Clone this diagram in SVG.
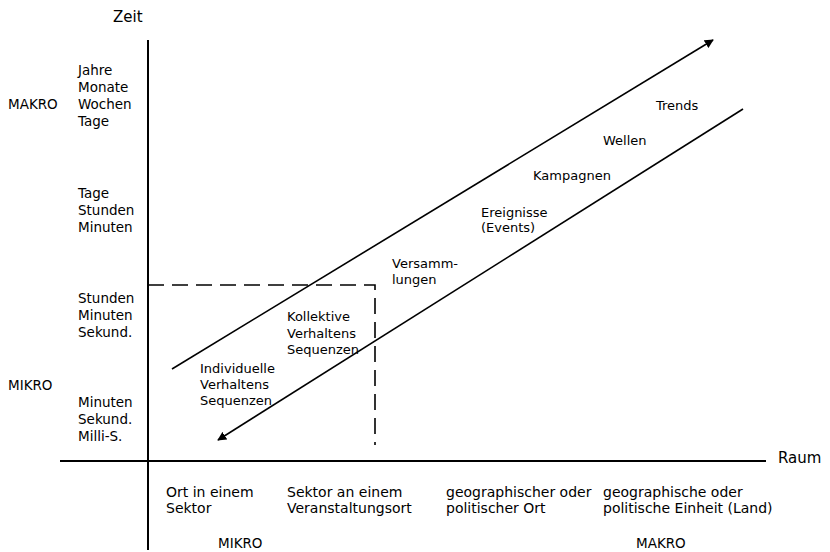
<svg xmlns="http://www.w3.org/2000/svg" width="830" height="552" viewBox="0 0 830 552">
  <style>
    text { font-family: "DejaVu Sans", "Liberation Sans", sans-serif; font-size: 13px; fill: #000; }
    .title { font-size: 15px; }
    .scale { font-size: 13.5px; }
    .space { font-size: 14px; }
    .axis { stroke: #000; stroke-width: 2; fill: none; }
    .trend { stroke: #000; stroke-width: 1.6; fill: none; }
    .dash { stroke: #000; stroke-width: 1.6; fill: none; stroke-dasharray: 16 8; }
  </style>
  <defs>
    <marker id="head" viewBox="0 0 10 10" refX="9" refY="5" markerWidth="9" markerHeight="9" markerUnits="userSpaceOnUse" orient="auto">
      <path d="M0,0 L10,5 L0,10 z" fill="#000"/>
    </marker>
  </defs>
  <rect width="830" height="552" fill="#fff"/>

  <!-- axes -->
  <g id="axes">
    <line class="axis" x1="148" y1="40" x2="148" y2="550"/>
    <line class="axis" x1="60" y1="461" x2="766" y2="461"/>
    <text class="title" x="113" y="22">Zeit</text>
    <text class="title" x="778" y="463">Raum</text>
  </g>

  <!-- time scale labels -->
  <g id="time-labels" class="scale">
    <text class="scale" x="8" y="109">MAKRO</text>
    <text class="scale" x="78" y="75">Jahre</text>
    <text class="scale" x="78" y="92">Monate</text>
    <text class="scale" x="78" y="109">Wochen</text>
    <text class="scale" x="78" y="126">Tage</text>
    <text class="scale" x="78" y="198">Tage</text>
    <text class="scale" x="78" y="215">Stunden</text>
    <text class="scale" x="78" y="232">Minuten</text>
    <text class="scale" x="78" y="303">Stunden</text>
    <text class="scale" x="78" y="320">Minuten</text>
    <text class="scale" x="78" y="337">Sekund.</text>
    <text class="scale" x="8" y="390">MIKRO</text>
    <text class="scale" x="78" y="407">Minuten</text>
    <text class="scale" x="78" y="424">Sekund.</text>
    <text class="scale" x="78" y="441">Milli-S.</text>
  </g>

  <!-- space scale labels -->
  <g id="space-labels">
    <text class="space" x="166" y="497">Ort in einem</text>
    <text class="space" x="166" y="513">Sektor</text>
    <text class="space" x="287" y="497">Sektor an einem</text>
    <text class="space" x="287" y="513">Veranstaltungsort</text>
    <text class="space" x="446" y="497">geographischer oder</text>
    <text class="space" x="446" y="513">politischer Ort</text>
    <text class="space" x="603" y="497">geographische oder</text>
    <text class="space" x="603" y="513">politische Einheit (Land)</text>
    <text class="scale" x="218" y="548">MIKRO</text>
    <text class="scale" x="636" y="548">MAKRO</text>
  </g>

  <!-- connectors -->
  <g id="connectors">
    <path class="dash" d="M148,285 H375 V445"/>
    <line class="trend" x1="172" y1="369" x2="713" y2="40" marker-end="url(#head)"/>
    <line class="trend" x1="743" y1="109" x2="218" y2="440" marker-end="url(#head)"/>
  </g>

  <!-- phenomena -->
  <g id="individuell">
    <text x="200" y="373">Individuelle</text>
    <text x="200" y="389">Verhaltens</text>
    <text x="200" y="405">Sequenzen</text>
  </g>
  <g id="kollektiv">
    <text x="287" y="321">Kollektive</text>
    <text x="287" y="338">Verhaltens</text>
    <text x="287" y="354">Sequenzen</text>
  </g>
  <g id="versammlungen">
    <text x="392" y="268">Versamm-</text>
    <text x="392" y="284">lungen</text>
  </g>
  <g id="ereignisse">
    <text x="481" y="217">Ereignisse</text>
    <text x="481" y="232">(Events)</text>
  </g>
  <g id="kampagnen">
    <text x="533" y="180">Kampagnen</text>
  </g>
  <g id="wellen">
    <text x="603" y="145">Wellen</text>
  </g>
  <g id="trends">
    <text x="656" y="110">Trends</text>
  </g>
</svg>
